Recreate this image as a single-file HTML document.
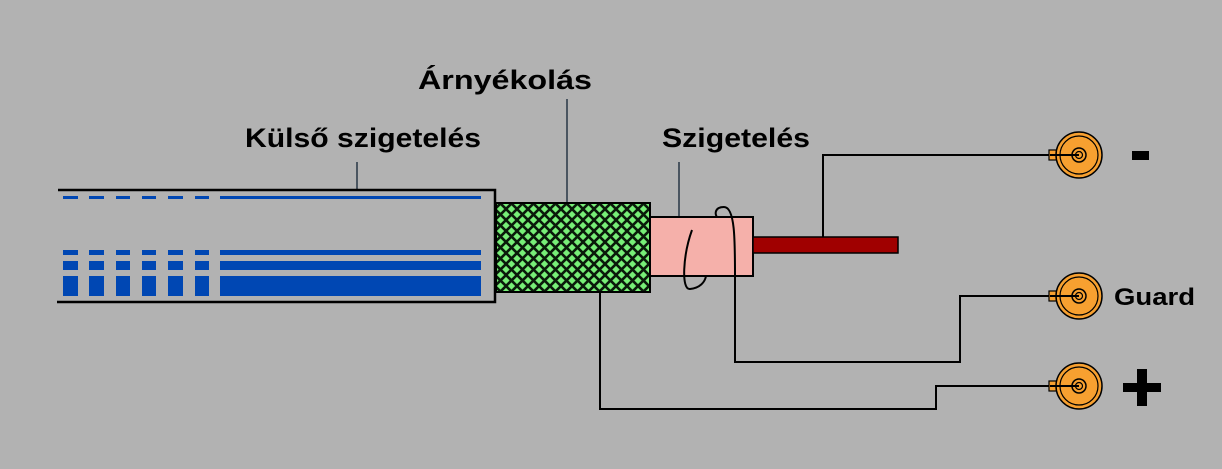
<!DOCTYPE html>
<html><head><meta charset="utf-8"><style>
html,body{margin:0;padding:0;background:#b2b2b2;}
svg{display:block}
text{font-family:"Liberation Sans",Arial,sans-serif;font-weight:bold;fill:#000}
</style></head><body>
<svg width="1222" height="469" viewBox="0 0 1222 469" xmlns="http://www.w3.org/2000/svg">
<defs>
<pattern id="mesh" width="11" height="11" patternUnits="userSpaceOnUse">
<rect width="11" height="11" fill="#77ee77"/>
<path d="M-2,2 L2,-2 M0,11 L11,0 M9,13 L13,9 M-2,9 L2,13 M0,0 L11,11 M9,-2 L13,2" stroke="#0a1a0a" stroke-width="2.6"/>
</pattern>
<g id="bnc">
<rect x="-30" y="-5" width="8" height="10" fill="#f7a030" stroke="#000" stroke-width="1.2"/>
<circle r="23" fill="#f7a030" stroke="#000" stroke-width="1.5"/>
<circle r="19" fill="none" stroke="#000" stroke-width="1.2"/>
<circle r="7" fill="none" stroke="#000" stroke-width="1.5"/>
<circle r="3.5" fill="none" stroke="#000" stroke-width="1.2"/>
</g>
</defs>
<rect width="1222" height="469" fill="#b2b2b2"/>

<line x1="357" y1="162" x2="357" y2="190" stroke="#4a5560" stroke-width="2"/>
<line x1="567" y1="99" x2="567" y2="203" stroke="#4a5560" stroke-width="2"/>
<line x1="679" y1="162" x2="679" y2="217" stroke="#4a5560" stroke-width="2"/>

<path d="M58,190 H495 V302 H57" fill="none" stroke="#000" stroke-width="2.5"/>
<g fill="#0047b3">
<rect x="63" y="196" width="15" height="3"/><rect x="89" y="196" width="15" height="3"/><rect x="116" y="196" width="14" height="3"/><rect x="142" y="196" width="14" height="3"/><rect x="168" y="196" width="15" height="3"/><rect x="195" y="196" width="14" height="3"/><rect x="220" y="196" width="261" height="3"/>
<rect x="63" y="250" width="15" height="5"/><rect x="89" y="250" width="15" height="5"/><rect x="116" y="250" width="14" height="5"/><rect x="142" y="250" width="14" height="5"/><rect x="168" y="250" width="15" height="5"/><rect x="195" y="250" width="14" height="5"/><rect x="220" y="250" width="261" height="5"/>
<rect x="63" y="261" width="15" height="9"/><rect x="89" y="261" width="15" height="9"/><rect x="116" y="261" width="14" height="9"/><rect x="142" y="261" width="14" height="9"/><rect x="168" y="261" width="15" height="9"/><rect x="195" y="261" width="14" height="9"/><rect x="220" y="261" width="261" height="9"/>
<rect x="63" y="276" width="15" height="20"/><rect x="89" y="276" width="15" height="20"/><rect x="116" y="276" width="14" height="20"/><rect x="142" y="276" width="14" height="20"/><rect x="168" y="276" width="15" height="20"/><rect x="195" y="276" width="14" height="20"/><rect x="220" y="276" width="261" height="20"/>
</g>

<path d="M600,292 V409 H936 V386 H1050" fill="none" stroke="#000" stroke-width="2"/>
<path d="M735,276 V362 H960 V296 H1050" fill="none" stroke="#000" stroke-width="2"/>
<path d="M823,237 V155 H1050" fill="none" stroke="#000" stroke-width="2"/>

<rect x="496" y="203" width="154" height="89" fill="url(#mesh)" stroke="#000" stroke-width="2"/>
<rect x="650" y="217" width="103" height="59" fill="#f5b0aa" stroke="#000" stroke-width="2"/>
<rect x="753" y="237" width="145" height="16" fill="#a00000" stroke="#000" stroke-width="1.5"/>
<path d="M692,230 C683,255 681,290 690,289 C700,288 705,282 706,276" fill="none" stroke="#000" stroke-width="2"/>
<path d="M735,276 C735,240 735,207 724,207 C714,207 715,215 717,217" fill="none" stroke="#000" stroke-width="2"/>

<use href="#bnc" x="1079" y="155"/>
<use href="#bnc" x="1079" y="296"/>
<use href="#bnc" x="1079" y="386"/>
<line x1="1050" y1="155" x2="1079" y2="155" stroke="#000" stroke-width="2"/>
<line x1="1050" y1="296" x2="1079" y2="296" stroke="#000" stroke-width="2"/>
<line x1="1050" y1="386" x2="1079" y2="386" stroke="#000" stroke-width="2"/>

<text x="418" y="89" font-size="27" textLength="174" lengthAdjust="spacingAndGlyphs">Árnyékolás</text>
<text x="245" y="147" font-size="27" textLength="236" lengthAdjust="spacingAndGlyphs">Külső szigetelés</text>
<text x="662" y="147" font-size="27" textLength="148" lengthAdjust="spacingAndGlyphs">Szigetelés</text>
<rect x="1132" y="151" width="17" height="9" fill="#000"/>
<text x="1114" y="305" font-size="24" textLength="81" lengthAdjust="spacingAndGlyphs">Guard</text>
<rect x="1123" y="383" width="38" height="9" fill="#000"/>
<rect x="1137" y="369" width="10" height="37" fill="#000"/>
</svg>
</body></html>
